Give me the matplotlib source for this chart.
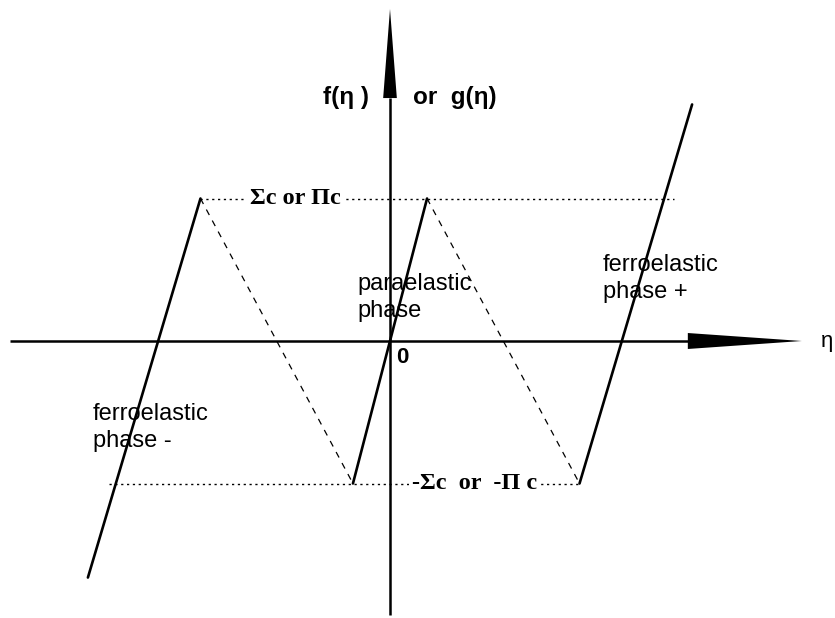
import matplotlib
matplotlib.use("Agg")
import matplotlib.pyplot as plt
from matplotlib.patches import Polygon

# Critical threshold (normalised) and the coercive order-parameter value
sigma_c = 1.0
eta_c = 1.33

# Branches of the hysteresis diagram (eta, f)
para_eta = [-0.26, 0.26]
para_f = [-sigma_c, sigma_c]
ferro_minus_eta = [-2.12, -eta_c]
ferro_minus_f = [-1.66, sigma_c]
ferro_plus_eta = [eta_c, 2.12]
ferro_plus_f = [-sigma_c, 1.66]

# Switching paths (dashed)
switch_left_eta = [-eta_c, -0.26]
switch_left_f = [sigma_c, -sigma_c]
switch_right_eta = [0.26, eta_c]
switch_right_f = [sigma_c, -sigma_c]

# Threshold levels (dotted)
top_level_eta = [-eta_c, 1.99]
bottom_level_eta = [-1.97, eta_c]

# Axis extents
x_axis_start, x_arrow_base, x_arrow_tip, x_arrow_half = -2.67, 2.09, 2.89, 0.056
y_axis_start, y_arrow_base, y_arrow_tip, y_arrow_half = -1.92, 1.705, 2.33, 0.048

fig = plt.figure(figsize=(8.35, 6.18), dpi=100)
ax = fig.add_axes([0, 0, 1, 1])
ax.set_xlim(-390 / 142.5, 445 / 142.5)
ax.set_ylim(-277 / 142.5, 341 / 142.5)
ax.axis("off")

ink = "black"

# Coordinate axes with filled arrowheads
ax.plot([x_axis_start, x_arrow_base], [0, 0], color=ink, lw=1.8, solid_capstyle="butt")
ax.add_patch(Polygon([[x_arrow_base, x_arrow_half], [x_arrow_tip, 0],
                      [x_arrow_base, -x_arrow_half]], closed=True, color=ink, lw=0))
ax.plot([0, 0], [y_axis_start, y_arrow_base], color=ink, lw=1.8, solid_capstyle="butt")
ax.add_patch(Polygon([[-y_arrow_half, y_arrow_base], [0, y_arrow_tip],
                      [y_arrow_half, y_arrow_base]], closed=True, color=ink, lw=0))

# Threshold levels
dot = (0, (1.6, 2.6))
ax.plot(top_level_eta, [sigma_c, sigma_c], color=ink, lw=1.0, linestyle=dot)
ax.plot(bottom_level_eta, [-sigma_c, -sigma_c], color=ink, lw=1.0, linestyle=dot)

# Switching paths
dash = (0, (5, 5))
ax.plot(switch_left_eta, switch_left_f, color=ink, lw=0.9, linestyle=dash)
ax.plot(switch_right_eta, switch_right_f, color=ink, lw=0.9, linestyle=dash)

# Phase branches
for xs, ys in [(para_eta, para_f), (ferro_minus_eta, ferro_minus_f),
               (ferro_plus_eta, ferro_plus_f)]:
    ax.plot(xs, ys, color=ink, lw=1.9, solid_capstyle="round")

sans = "Liberation Sans"
serif = "Liberation Serif"
white = dict(facecolor="white", edgecolor="none", pad=2.5)

# Threshold labels
ax.text(-0.663, sigma_c, "Σc or Πc", fontfamily=serif, fontweight="bold",
        fontsize=17.5, ha="center", va="center", bbox=white)
ax.text(0.596, -sigma_c, "-Σc  or  -Π c", fontfamily=serif, fontweight="bold",
        fontsize=17.5, ha="center", va="center", bbox=white)

# Axis labels
ax.text(-0.15, 1.71, "f(η )", fontfamily=sans, fontweight="bold", fontsize=17.5,
        ha="right", va="center")
ax.text(0.16, 1.71, "or  g(η)", fontfamily=sans, fontweight="bold", fontsize=17.5,
        ha="left", va="center")
ax.text(3.11, 0, "η", fontfamily=sans, fontsize=16, ha="right", va="center")
ax.text(0.04, -0.155, "0", fontfamily=sans, fontweight="bold", fontsize=16,
        ha="left", va="baseline")

# Phase labels (anchored on the baseline of the second line)
ax.text(-0.23, 0.168, "paraelastic\nphase", fontfamily=sans, fontsize=17,
        ha="left", va="baseline", linespacing=1.3)
ax.text(1.495, 0.302, "ferroelastic\nphase +", fontfamily=sans, fontsize=17,
        ha="left", va="baseline", linespacing=1.3)
ax.text(-2.084, -0.744, "ferroelastic\nphase -", fontfamily=sans, fontsize=17,
        ha="left", va="baseline", linespacing=1.3)

fig.savefig("out.png", dpi=100)
